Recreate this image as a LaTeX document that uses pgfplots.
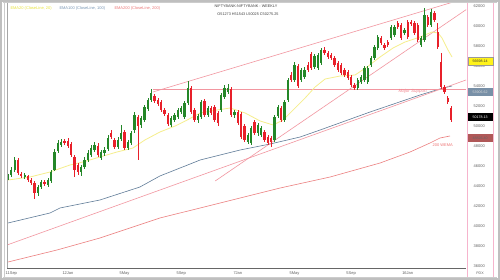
\documentclass[border=0pt]{standalone}
\usepackage{pgfplots}
\pgfplotsset{compat=1.18}
\usepackage{pgfplotstable}
\usepackage{fontspec}
\setmainfont{Liberation Sans}
\definecolor{cgreen}{RGB}{36,135,40}
\definecolor{cred}{RGB}{232,32,42}
\definecolor{cema20}{RGB}{246,238,140}
\definecolor{cema100}{RGB}{96,124,152}
\definecolor{cema200}{RGB}{236,128,128}
\definecolor{ctrend}{RGB}{242,150,160}
\definecolor{cpanel}{RGB}{246,180,205}
\definecolor{ctick}{RGB}{95,95,95}
\pgfplotstableread{
x o h l c
0 44800 45200 44600 45000
1 45100 45900 44900 45600
2 45600 46900 45400 46600
5 44900 45300 44700 45100
9 43300 44100 43000 43900
10 43900 44600 43700 44400
12 44100 44800 43900 44600
13 44500 45600 44300 45400
14 45600 47700 45500 47400
15 47500 48600 47300 48300
16 48100 48700 47900 48400
22 45400 46100 45000 45900
23 45900 46900 45700 46600
24 46600 47600 46400 47300
25 47100 48100 46900 47800
26 47600 48400 47400 48100
28 46800 47600 46600 47400
29 47300 47900 47000 47600
30 47700 49100 47500 48800
33 47900 48900 47700 48600
34 48700 50100 48500 49300
36 47800 48600 47600 48400
37 48300 49500 48100 49300
38 49600 51400 49300 51100
40 50100 51000 49800 50800
41 50600 52100 50400 51900
42 51700 52800 51500 52600
43 52600 53700 52400 53300
49 50100 51000 49900 50800
50 50600 51300 50400 51100
51 50900 51800 50700 51600
52 51400 52000 51200 51800
53 50900 52500 50700 52300
54 52300 54500 52100 53800
57 50600 51200 50300 51000
58 50900 52600 50700 52400
60 51100 52000 50900 51800
64 51600 53300 51400 53100
65 52900 54100 52700 53800
66 53400 54200 53200 53800
68 51100 51600 50800 51400
72 48400 49300 48200 49100
73 48300 50000 48100 49800
75 49300 50300 49000 50100
76 49100 50000 48900 49800
80 48600 51100 48400 50900
81 51000 52100 50800 51900
83 50600 52600 50400 52400
84 52600 54800 52400 54600
86 54600 56400 54400 56100
88 54600 55800 54400 55600
89 54900 55900 54700 55600
92 55900 57200 55700 57000
93 55800 57300 55600 57100
94 56300 57800 56100 57600
105 53800 54800 53600 54600
106 54400 55100 54200 54900
107 54600 56000 54400 55800
108 54400 56000 54200 55800
109 56100 57000 55900 56800
110 56800 58100 56600 57900
111 57800 59100 57600 58900
115 58800 60100 58600 59900
116 59100 60100 58900 59900
119 59300 59800 59100 59600
124 58100 59000 57900 58800
125 58600 61800 58400 61100
127 60100 61700 59900 61400
}\greentab
\pgfplotstableread{
x o h l c
3 46600 46800 45100 45300
4 45200 45400 44800 45000
6 45000 45100 44400 44600
7 44600 44800 44100 44300
8 44300 44500 42700 43300
11 44400 44600 44000 44200
17 48500 48700 48100 48300
18 48500 48800 47800 48000
19 48200 48400 46900 47100
20 46900 47100 44900 45600
21 46100 46300 45100 45400
27 48000 48300 46900 47100
31 49300 49600 48700 48900
32 48600 48800 47700 47900
35 49400 49600 47600 47800
39 50900 51100 46600 50000
44 53000 53200 52300 52500
45 52600 52800 52000 52200
46 52400 52600 51400 51600
47 51600 51800 51000 51200
48 51100 51300 50000 50200
55 53800 54000 51200 51400
56 51600 51800 50400 50600
59 52500 52700 50900 51100
61 51800 52000 51100 51300
62 51900 52100 50400 50600
63 51300 51500 50000 50300
67 53700 53900 50900 51100
69 51400 51600 50100 50300
70 51200 51400 48700 48900
71 50000 50200 48400 48600
74 50400 50600 49100 49300
77 49400 49600 48400 48600
78 48900 49100 48100 48300
79 48800 49000 47900 48400
82 51800 52000 50400 50600
85 55100 55400 54400 54600
87 56000 56200 53800 54000
90 56100 56400 55400 55600
91 57200 57400 55600 55800
95 57600 57900 57100 57300
96 57300 57500 56700 56900
97 57100 57300 56600 56800
98 56800 57000 55900 56100
99 56300 56500 55400 55600
100 56100 56300 55100 55300
101 55600 55800 54900 55100
102 55400 55600 54600 54800
103 54900 55100 53900 54100
104 54100 54300 53600 53800
112 58800 59000 58100 58300
113 58100 58300 57600 57800
114 58400 58600 57900 58100
117 60300 60500 59700 59900
118 60100 60300 58600 58800
120 60400 60600 58700 58900
121 60400 60600 60000 60200
122 60300 60500 59100 59300
123 60100 60300 58400 58600
126 60900 61100 59900 60100
128 61300 61500 60400 60600
129 59400 60300 57700 57900
130 56400 57300 53700 53900
131 53900 54100 53200 53400
132 52800 53000 52200 52400
133 51800 52000 50400 50600
}\redtab
\begin{document}
\begin{tikzpicture}
\useasboundingbox (0,0) rectangle (500bp,280bp);
\fill[white] (0,0) rectangle (500bp,280bp);
\begin{axis}[
  at={(7bp,12bp)}, anchor=south west, scale only axis,
  width=459bp, height=265bp,
  xmin=-0.3, xmax=137.5, ymin=35800, ymax=62300,
  axis line style={draw=none}, major tick length=0,
  ytick={36000,38000,...,62000}, yticklabel pos=right,
  scaled y ticks=false,
  /pgf/number format/.cd, set thousands separator={}, assume math mode=true, /pgfplots/.cd,
  yticklabel style={anchor=west, xshift=4.2bp, font=\fontsize{4}{4.2}\selectfont, text=ctick},
  xtick={1,18,35,52,69,86,103,120},
  xticklabels={11Sep,12Jan,5May,5Sep,7Jan,5May,5Sep,16Jan},
  xticklabel style={anchor=north, yshift=0bp, font=\fontsize{4}{4.2}\selectfont, text=ctick},
  clip=true,
]
% EMA200
\addplot[cema200, line width=0.6bp] coordinates {(0,36400) (14.7,37600) (27.6,38800) (45.6,40800) (63.7,42300) (81.7,43800) (96.7,44900) (111.7,46300) (120.7,47400) (126.7,48300) (129.7,48800) (132.7,49000)};
% EMA100
\addplot[cema100, line width=0.6bp] coordinates {(0,40300) (12.6,41300) (15.6,41800) (27.6,42600) (39.6,43900) (45.6,45000) (57.7,46600) (69.7,47600) (78.7,48200) (87.7,48900) (93.7,49600) (108.7,51400) (123.7,53100) (130.6,53800) (133.3,54000)};
% trend lines
\addplot[ctrend, line width=0.6bp] coordinates {(-0.3,38100) (137.5,54600)};
\addplot[ctrend, line width=0.6bp] coordinates {(62.2,44500) (138.7,61900)};
\addplot[ctrend, line width=0.6bp] coordinates {(43.5,53400) (138.7,62900)};
\addplot[ctrend, line width=0.6bp] coordinates {(43.5,53700) (137.5,53700)};
% EMA20
\addplot[cema20, line width=0.8bp] coordinates {(0,44600) (6.6,44900) (12.6,45400) (18.6,46100) (22.5,46400) (27.6,46900) (32.7,47400) (37.5,47800) (41.1,48600) (45.6,49400) (50.2,50000) (53.8,50600) (57.7,51300) (62.8,51600) (66.7,51800) (71.2,51300) (75.7,50500) (79.6,50100) (82.6,50600) (85.6,51600) (89.2,52800) (92.2,53900) (95.2,54700) (99.7,55000) (104.2,55100) (107.8,55900) (111.7,56900) (115.6,57800) (119.2,58400) (123.7,58900) (127.3,59400) (129.1,59300) (130.3,58800) (131.2,58200) (132.1,57600) (133.3,56900)};
% wicks
\addplot[draw=none, mark=none, error bars/.cd, y dir=both, y explicit, error mark=none,
  error bar style={line width=0.5bp, cgreen}]
  table[x=x, y expr=(\thisrow{h}+\thisrow{l})/2, y error expr=(\thisrow{h}-\thisrow{l})/2] {\greentab};
\addplot[draw=none, mark=none, error bars/.cd, y dir=both, y explicit, error mark=none,
  error bar style={line width=0.5bp, cred}]
  table[x=x, y expr=(\thisrow{h}+\thisrow{l})/2, y error expr=(\thisrow{h}-\thisrow{l})/2] {\redtab};
% bodies
\addplot[draw=none, mark=none, error bars/.cd, y dir=both, y explicit, error mark=none,
  error bar style={line width=2.3bp, cgreen}]
  table[x=x, y expr=(\thisrow{o}+\thisrow{c})/2, y error expr=(\thisrow{c}-\thisrow{o})/2] {\greentab};
\addplot[draw=none, mark=none, error bars/.cd, y dir=both, y explicit, error mark=none,
  error bar style={line width=2.3bp, cred}]
  table[x=x, y expr=(\thisrow{o}+\thisrow{c})/2, y error expr=(\thisrow{o}-\thisrow{c})/2] {\redtab};
\node[font=\itshape\fontsize{4.5}{5}\selectfont, text=ctrend!90!red] at (axis cs:121.5,53500) {Major Support};
\node[font=\fontsize{4}{4.5}\selectfont, text=cema200!90!red] at (axis cs:130.5,48100) {200 WEMA};
\end{axis}
% frame
\draw[black!25, line width=1.5bp] (1bp,1bp) rectangle (499bp,279bp);
\draw[black!20, line width=0.6bp] (4.5bp,3bp) -- (4.5bp,277bp);
\draw[black!20, line width=0.6bp] (3bp,277.5bp) -- (497bp,277.5bp);
\draw[black!20, line width=0.6bp] (3bp,2.5bp) -- (497bp,2.5bp);
\draw[black!60, line width=0.6bp] (7bp,12bp) -- (466bp,12bp);
\draw[black!35, line width=0.4bp] (7bp,12bp) -- (7bp,277bp);
\draw[cpanel, line width=0.6bp] (467bp,3bp) -- (467bp,277bp);
\draw[cpanel, line width=0.6bp] (493bp,3bp) -- (493bp,277bp);
% price boxes
\node[fill=yellow!90!white, draw=black!40, line width=0.3bp, minimum width=25bp, minimum height=7.5bp, inner sep=0pt, font=\fontsize{3.6}{4}\selectfont, text=black!80, anchor=west] at (467.5bp,219bp) {56698.14};
\node[fill=cema100!85!white, minimum width=25bp, minimum height=7.5bp, inner sep=0pt, font=\fontsize{3.6}{4}\selectfont, text=white!85!black, anchor=west] at (467.5bp,188bp) {53906.62};
\node[fill=black, minimum width=25bp, minimum height=7.5bp, inner sep=0pt, font=\fontsize{3.6}{4}\selectfont, text=white, anchor=west] at (467.5bp,163bp) {50178.13};
\node[fill={rgb,255:red,176;green,88;blue,88}, minimum width=25bp, minimum height=7.5bp, inner sep=0pt, font=\fontsize{3.6}{4}\selectfont, text=black!60, anchor=west] at (467.5bp,142bp) {48826.40};
% legend and title
\node[anchor=west, font=\fontsize{4}{4.5}\selectfont, text={rgb,255:red,232;green,228;blue,60}] at (7bp,272bp) {EMA20 (CloseLine, 20)};
\node[anchor=west, font=\fontsize{4}{4.5}\selectfont, text={rgb,255:red,120;green,150;blue,180}] at (56bp,272bp) {EMA100 (CloseLine, 100)};
\node[anchor=west, font=\fontsize{4}{4.5}\selectfont, text={rgb,255:red,236;green,120;blue,120}] at (111bp,272bp) {EMA200 (CloseLine, 200)};
\node[font=\fontsize{3.8}{4.2}\selectfont, text=black!75] at (246bp,274bp) {NIFTYBANK-NIFTYBANK - WEEKLY};
\node[font=\fontsize{3.8}{4.2}\selectfont, text=black!75] at (248bp,266bp) {O51273 H51543 L50025 C50275.25};
\node[font=\fontsize{3.6}{4}\selectfont, text=ctick] at (480bp,7bp) {PDX};
\end{tikzpicture}
\end{document}
